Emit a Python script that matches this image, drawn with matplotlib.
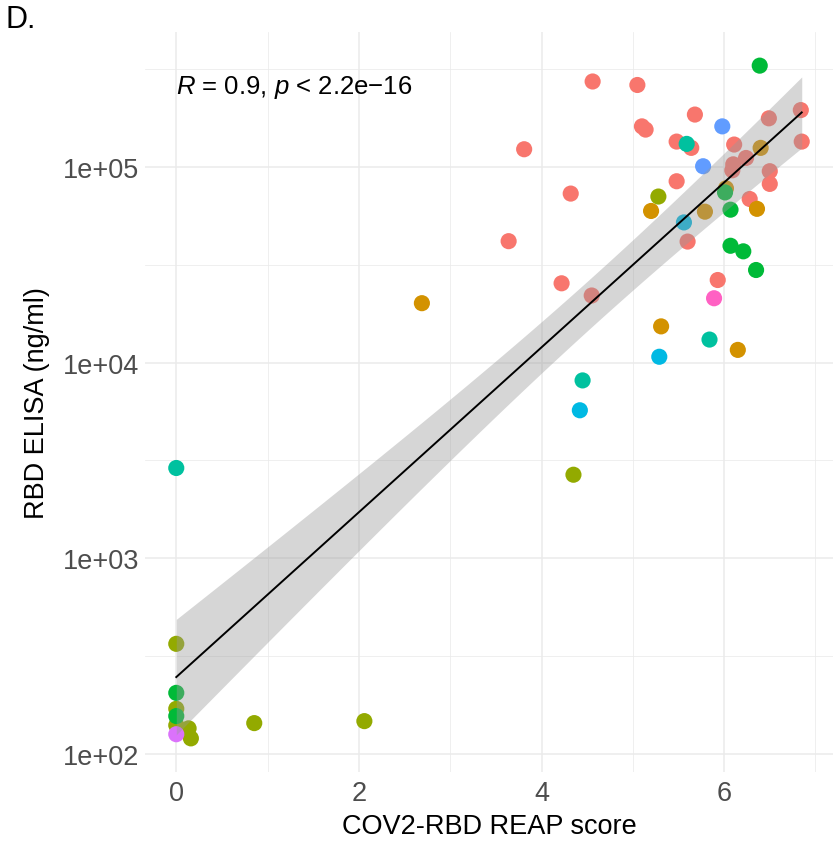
import numpy as np
import matplotlib
matplotlib.use("Agg")
from matplotlib import pyplot as plt
from matplotlib.ticker import FixedLocator, FuncFormatter

plt.rcParams['font.family'] = ['Liberation Sans', 'DejaVu Sans']
plt.rcParams['mathtext.fontset'] = 'custom'
plt.rcParams['mathtext.rm'] = 'Liberation Sans'
plt.rcParams['mathtext.it'] = 'Liberation Sans:italic'

# ggplot hue palette for 9 groups
palette = ["#F8766D", "#D39200", "#93AA00", "#00BA38", "#00C19F",
           "#00B9E3", "#619CFF", "#DB72FB", "#FF61C3"]

# data (REAP score, RBD ELISA ng/ml, group index)
reap_score = [4.56, 5.05, 3.81, 4.32, 3.64, 5.68, 6.84, 6.49, 5.10, 5.14,
              5.48, 5.64, 6.11, 6.85, 6.24, 6.10, 6.09, 6.50, 6.50, 5.48,
              6.28, 5.60, 5.93, 4.22, 4.55,
              6.40, 6.02, 6.36, 5.20, 5.79, 5.31, 6.15, 2.69,
              5.28, 4.35, 0.0, 0.0, 0.0, 0.135, 0.16, 0.854, 2.06,
              6.39, 6.01, 6.07, 6.07, 6.21, 6.35, 0.0, 0.0,
              5.59, 5.84, 4.45, 0.0,
              5.56, 5.29, 4.42,
              5.98, 5.77,
              0.0,
              5.89]
elisa = [273000, 262000, 123000, 73000, 41700, 185000, 195000, 177000, 161000, 155000,
         134600, 125000, 130000, 134600, 111000, 103000, 96000, 95000, 81800, 84400,
         68500, 41500, 26400, 25400, 22000,
         125000, 77600, 61000, 59500, 59000, 15300, 11600, 20100,
         70500, 2670, 365, 170, 140, 135, 120, 143.6, 147,
         329000, 74000, 60400, 39500, 37000, 29700, 205, 156,
         131000, 13100, 8100, 2890,
         52000, 10700, 5700,
         161000, 100700,
         126,
         21300]
group = [0] * 25 + [1] * 8 + [2] * 9 + [3] * 8 + [4] * 4 + [5] * 3 + [6] * 2 + [7] + [8]

x = np.array(reap_score)
ly = np.log10(np.array(elisa))

# linear fit on log scale with 95% confidence band (like geom_smooth(method="lm"))
n = len(x)
b1, b0 = np.polyfit(x, ly, 1)
resid = ly - (b0 + b1 * x)
s = np.sqrt(np.sum(resid ** 2) / (n - 2))
xs = np.linspace(x.min(), x.max(), 80)
fit = b0 + b1 * xs
se = s * np.sqrt(1 / n + (xs - x.mean()) ** 2 / np.sum((x - x.mean()) ** 2))
tval = 1.9996
lo, hi = fit - tval * se, fit + tval * se

fig = plt.figure(figsize=(8.33, 8.45), dpi=100)
ax = fig.add_axes([145 / 833, 1 - 773 / 845, (833 - 145) / 833, (773 - 33) / 845])

ax.scatter(x, ly, c=[palette[g] for g in group], s=135, linewidths=0, zorder=3)
ax.fill_between(xs, lo, hi, color="#999999", alpha=0.4, linewidth=0, zorder=4)
ax.plot(xs, fit, color="black", lw=1.4, zorder=5)

# limits with 5% expansion like ggplot
xr = x.max() - x.min()
ax.set_xlim(x.min() - 0.05 * xr, x.max() + 0.05 * xr)
ymin = min(ly.min(), lo.min())
ymax = max(ly.max(), hi.max())
yr = ymax - ymin
ax.set_ylim(ymin - 0.05 * yr, ymax + 0.05 * yr)

ax.xaxis.set_major_locator(FixedLocator([0, 2, 4, 6]))
ax.xaxis.set_minor_locator(FixedLocator([1, 3, 5, 7]))
ax.yaxis.set_major_locator(FixedLocator([2, 3, 4, 5]))
ax.yaxis.set_minor_locator(FixedLocator([1.5, 2.5, 3.5, 4.5, 5.5]))
ax.yaxis.set_major_formatter(FuncFormatter(lambda v, p: "1e+%02d" % int(round(v))))
ax.grid(True, which="major", color="#EBEBEB", lw=1.1)
ax.grid(True, which="minor", color="#EBEBEB", lw=0.55)
ax.set_axisbelow(True)
for sp in ax.spines.values():
    sp.set_visible(False)
ax.tick_params(which="both", length=0)
ax.tick_params(axis="y", labelsize=19.5, labelcolor="#4D4D4D", pad=4)
ax.tick_params(axis="x", labelsize=19.5, labelcolor="#4D4D4D", pad=6)

ax.set_xlabel("COV2-RBD REAP score", fontsize=19.5, labelpad=5)
ax.set_ylabel("RBD ELISA (ng/ml)", fontsize=19.5, labelpad=9)

ax.text(0, 5.413, r"$\it{R}$ = 0.9, $\it{p}$ < 2.2e$-$16", fontsize=18.5,
        ha="left", va="center", zorder=6)
fig.text(6 / 833, 1 - 20 / 845, "D.", fontsize=22, ha="left", va="center")

fig.savefig("out.png", dpi=100)
